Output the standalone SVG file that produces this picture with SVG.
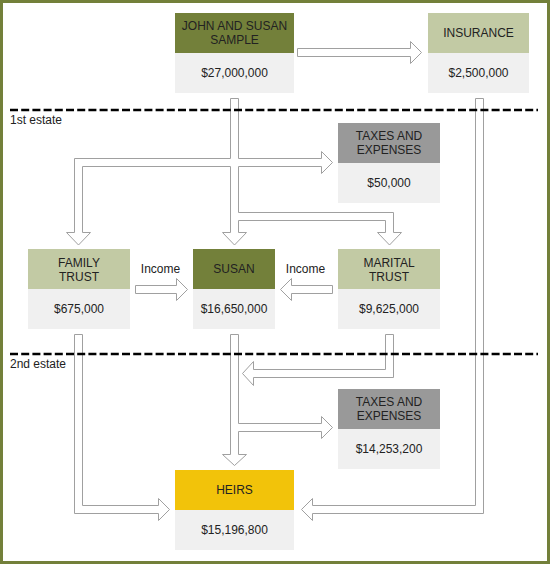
<svg xmlns="http://www.w3.org/2000/svg" width="550" height="564" viewBox="0 0 550 564">
<style>
.t{font-family:"Liberation Sans",Arial,sans-serif;font-size:12px;fill:#222;text-anchor:middle}
.l{font-family:"Liberation Sans",Arial,sans-serif;font-size:12px;fill:#222}
.olive{fill:#73803a}
.sage{fill:#c2caa4}
.gray{fill:#999999}
.gold{fill:#f2c30a}
.body{fill:#f0f0f0}
.arr{fill:#ffffff;stroke:#a0a0a0;stroke-width:1}
.dash{stroke:#000;stroke-width:2.5;stroke-dasharray:8 3.2}
</style>
<rect x="0" y="0" width="550" height="564" fill="#ffffff"/>
<rect x="1.5" y="1.5" width="547" height="561" fill="none" stroke="#73803a" stroke-width="3"/>

<g id="connectors">
<polygon class="arr" points="297.5,48.5 410.5,48.5 410.5,41.5 421.5,52.5 410.5,63.5 410.5,56.5 297.5,56.5"/>
<polygon class="arr" points="230.5,98.5 238.5,98.5 238.5,158.5 321.5,158.5 321.5,151.5 332.5,162.5 321.5,173.5 321.5,166.5 238.5,166.5 238.5,212.5 393.5,212.5 393.5,232.5 401.5,232.5 389.5,245 377.5,232.5 385.5,232.5 385.5,220.5 238.5,220.5 238.5,232.5 246.5,232.5 234.5,245 222.5,232.5 230.5,232.5 230.5,166.5 82.5,166.5 82.5,232.5 90.5,232.5 78.5,245 66.5,232.5 74.5,232.5 74.5,158.5 230.5,158.5"/>
<polygon class="arr" points="475.5,98.5 483.5,98.5 483.5,513.5 312.5,513.5 312.5,520.5 301.5,509.5 312.5,498.5 312.5,505.5 475.5,505.5"/>
<polygon class="arr" points="135.5,285.5 176.5,285.5 176.5,278.5 187.5,289.5 176.5,300.5 176.5,293.5 135.5,293.5"/>
<polygon class="arr" points="332.5,285.5 291.5,285.5 291.5,278.5 280.5,289.5 291.5,300.5 291.5,293.5 332.5,293.5"/>
<polygon class="arr" points="74.5,334.5 82.5,334.5 82.5,505.5 158.5,505.5 158.5,498.5 169.5,509.5 158.5,520.5 158.5,513.5 74.5,513.5"/>
<polygon class="arr" points="230.5,334.5 238.5,334.5 238.5,423.5 321.5,423.5 321.5,416.5 332.5,427.5 321.5,438.5 321.5,431.5 238.5,431.5 238.5,454.5 246.5,454.5 234.5,465.5 222.5,454.5 230.5,454.5"/>
<polygon class="arr" points="385.5,334.5 393.5,334.5 393.5,377.5 253.5,377.5 253.5,385.5 242.5,373.5 253.5,361.5 253.5,369.5 385.5,369.5"/>
<text class="t" x="160.5" y="272.5">Income</text>
<text class="t" x="305.5" y="272.5">Income</text>
</g>

<g id="estate-lines">
<line class="dash" x1="10" y1="110" x2="538" y2="110"/>
<text class="l" x="10" y="123.5">1st estate</text>
<line class="dash" x1="10" y1="354" x2="538" y2="354"/>
<text class="l" x="10" y="367.5">2nd estate</text>
</g>

<g id="john-and-susan-sample">
<rect class="olive" x="175" y="13" width="119" height="40"/>
<rect class="body" x="175" y="53" width="119" height="40"/>
<text class="t" x="234.5" y="29.5">JOHN AND SUSAN</text>
<text class="t" x="234.5" y="43.5">SAMPLE</text>
<text class="t" x="234.5" y="77.3">$27,000,000</text>
</g>

<g id="insurance">
<rect class="sage" x="428" y="13" width="101" height="40"/>
<rect class="body" x="428" y="53" width="101" height="40"/>
<text class="t" x="478.5" y="37.3">INSURANCE</text>
<text class="t" x="478.5" y="77.3">$2,500,000</text>
</g>

<g id="taxes-1">
<rect class="gray" x="338" y="123" width="102" height="40"/>
<rect class="body" x="338" y="163" width="102" height="40"/>
<text class="t" x="389" y="139.5">TAXES AND</text>
<text class="t" x="389" y="153.5">EXPENSES</text>
<text class="t" x="389" y="187.3">$50,000</text>
</g>

<g id="family-trust">
<rect class="sage" x="28" y="249" width="102" height="40"/>
<rect class="body" x="28" y="289" width="102" height="40"/>
<text class="t" x="79" y="266.5">FAMILY</text>
<text class="t" x="79" y="280.5">TRUST</text>
<text class="t" x="79" y="313.3">$675,000</text>
</g>

<g id="susan">
<rect class="olive" x="193" y="249" width="82" height="40"/>
<rect class="body" x="193" y="289" width="82" height="40"/>
<text class="t" x="234" y="273.3">SUSAN</text>
<text class="t" x="234" y="313.3">$16,650,000</text>
</g>

<g id="marital-trust">
<rect class="sage" x="338" y="249" width="102" height="40"/>
<rect class="body" x="338" y="289" width="102" height="40"/>
<text class="t" x="389" y="266.5">MARITAL</text>
<text class="t" x="389" y="280.5">TRUST</text>
<text class="t" x="389" y="313.3">$9,625,000</text>
</g>

<g id="taxes-2">
<rect class="gray" x="338" y="389" width="102" height="40"/>
<rect class="body" x="338" y="429" width="102" height="40"/>
<text class="t" x="389" y="405.5">TAXES AND</text>
<text class="t" x="389" y="419.5">EXPENSES</text>
<text class="t" x="389" y="453.3">$14,253,200</text>
</g>

<g id="heirs">
<rect class="gold" x="175" y="470" width="119" height="40"/>
<rect class="body" x="175" y="510" width="119" height="40"/>
<text class="t" x="234.5" y="494.3">HEIRS</text>
<text class="t" x="234.5" y="534.3">$15,196,800</text>
</g>
</svg>
